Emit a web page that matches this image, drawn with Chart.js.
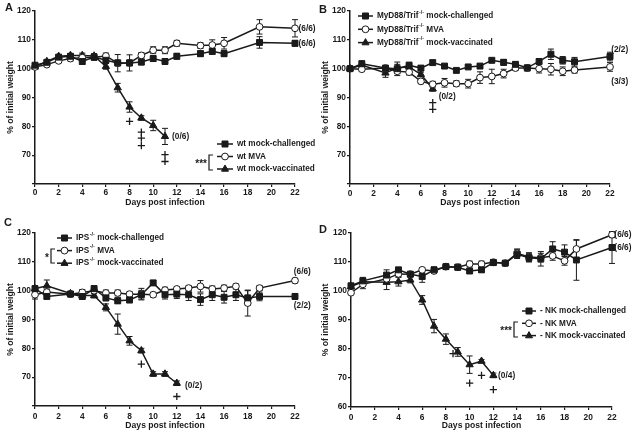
<!DOCTYPE html>
<html>
<head>
<meta charset="utf-8">
<script src="https://cdn.jsdelivr.net/npm/chart.js@4.4.1/dist/chart.umd.min.js"></script>
<style>
body{margin:0;background:#fff;}
#wrap{position:relative;width:635px;height:434px;overflow:hidden;background:#fff;}
canvas{position:absolute;}
</style>
</head>
<body>
<div id="wrap">
<canvas id="chartA" width="320" height="215" style="left:0;top:0"></canvas>
<canvas id="chartB" width="320" height="215" style="left:315px;top:0"></canvas>
<canvas id="chartC" width="320" height="219" style="left:0;top:215px"></canvas>
<canvas id="chartD" width="320" height="219" style="left:315px;top:215px"></canvas>
</div>
<script>
// ---- panel A : wt ----
var daysA = [0,1,2,3,4,5,6,7,8,9,10,11,12,14,15,16,19,22];
var wtChallenged = [101.2,102.2,104,104.3,102.5,104,102.9,102,102,102.3,103.5,102.5,104.3,105.2,106,105.2,109.1,108.8];
var wtChallengedErr = [0.6,0.6,0.6,0.8,1,1,1,1,1,1,1,1,1,1,1,1,2,1];
var wtMva = [100.6,101.4,102.7,103.5,103.8,104,104.4,101.9,102,104.6,106.4,106.4,108.8,108,108.2,108.8,114.5,114];
var wtMvaErr = [0.6,0.6,0.6,0.8,1.2,1,1,3,2.8,1,1.2,1.2,1,1,1.8,2,2.5,3];
var daysAv = [0,1,2,3,4,5,6,7,8,9,10,11];
var wtVacc = [100.6,102.5,104.3,104.6,104.6,104.4,100.8,93.4,86.7,82.9,80.3,76.5];
var wtVaccErr = [0.5,0.5,0.5,0.5,0.8,0.8,1,1.5,1.8,0.8,1.8,2.8];
var crossDaysA = [8,9,9,9,11,11];
var crossValsA = [81.7,78,75.9,73.3,70.2,67.8];
var noteDaysA = [22.3,22.3,11.6];
var noteValsA = [114,108.8,76.5];
var noteTextA = ['(6/6)','(6/6)','(0/6)'];
var legendA = [['wt mock-challenged','',''],['wt MVA','',''],['wt mock-vaccinated','','']];

// ---- panel B : MyD88/Trif-/- ----
var daysB = [0,1,3,4,5,6,7,8,9,10,11,12,13,14,15,16,17,18,19,22];
var myChallenged = [100,101.7,100.2,100,101.2,100.2,102.1,100.9,99.4,100.6,100.9,102.9,102.2,101.5,100.3,102.5,105,102.9,102.4,104.2];
var myChallengedErr = [0.5,1,0.8,1.5,1,0.8,0.8,0.6,0.6,0.6,0.6,0.6,1,0.8,0.8,0.8,1.8,1.3,1.5,1.5];
var myMva = [100,99.8,100.2,99.1,98.8,95.6,94.6,95.1,94.8,94.8,96.9,97.3,98.3,100.2,100.2,100,99.8,99.1,99.5,100.6];
var myMvaErr = [0.5,0.6,0.6,1.5,1,0.8,1,1.5,1,1.5,2,2.5,1.5,0.8,1,1.5,2,1.5,1,1.5];
var daysBv = [0,1,3,4,5,6,7];
var myVacc = [100,101.3,98.5,100.3,100.6,98,93];
var myVaccErr = [0.5,0.5,1.5,2,0.8,0.8,0.8];
var crossDaysB = [7,7];
var crossValsB = [88.2,85.9];
var noteDaysB = [22.1,22.1,7.5];
var noteValsB = [106.7,95.6,90.2];
var noteTextB = ['(2/2)','(3/3)','(0/2)'];
var legendB = [['MyD88/Trif','-/-',' mock-challenged'],['MyD88/Trif','-/-',' MVA'],['MyD88/Trif','-/-',' mock-vaccinated']];

// ---- panel C : IPS-/- ----
var daysC = [0,1,3,4,5,6,7,8,9,10,11,12,13,14,15,16,17,18,19,22];
var ipsChallenged = [100.7,98,98.8,98,100.7,97.5,96.5,96.8,98.6,102.7,98.6,98.8,98.6,96.9,98.6,97.7,98.6,97.5,98,98];
var ipsChallengedErr = [1,0.8,0.8,1,1,1,1,1,1.5,0.8,1.5,1.5,2,2,2,2,2,2.5,1.5,1];
var ipsMva = [98.6,99.5,98.8,99.4,100,99.2,99.2,98.8,98.8,98.6,100.2,100.6,100.9,101.5,100.6,100.9,101.5,95.7,100.9,103.5];
var ipsMvaErr = [1.5,1,0.8,1,1,1,1,0.8,2,0.8,1,0.8,0.8,2,1,1,0.8,4.5,0.8,0.8];
var daysCv = [0,1,3,4,5,6,7,8,9,10,11,12];
var ipsVacc = [100.7,101.7,99,98.3,98.3,94.2,88.4,82.6,79.2,71.1,71.1,67.9];
var ipsVaccErr = [0.8,2,0.8,0.8,0.8,1.2,3.5,1.5,0.8,0.8,0.8,0.8];
var crossDaysC = [9,12];
var crossValsC = [74.5,63.3];
var noteDaysC = [21.9,21.9,12.7];
var noteValsC = [106.7,94.9,67.1];
var noteTextC = ['(6/6)','(2/2)','(0/2)'];
var legendC = [['IPS','-/-',' mock-challenged'],['IPS','-/-',' MVA'],['IPS','-/-',' mock-vaccinated']];

// ---- panel D : NK depleted ----
var daysD = [0,1,3,4,5,6,7,8,9,10,11,12,13,14,15,16,17,18,19,22];
var nkChallenged = [101.8,103.5,105.5,107.3,105.8,105,107.3,108.4,108.2,106.9,107.3,109.8,109.6,112.7,111.5,111.1,114.5,113.4,110.7,115];
var nkChallengedErr = [0.5,0.8,1.8,0.8,0.8,2,1,0.8,0.8,0.8,0.8,0.8,0.8,1.5,1.5,2.5,2.5,2.5,7,5.5];
var nkMva = [99.4,102.3,104.2,105.9,105.8,107.3,106.9,108.4,108.2,109.3,109.3,109.9,109.6,113,111.7,111.5,112.1,110.4,114.5,119.4];
var nkMvaErr = [0.5,1.5,1.5,1,0.8,0.8,0.8,0.6,1,1,1,1,0.6,1.5,1.5,1.5,1.5,1.5,3,1];
var daysDv = [0,1,3,4,5,6,7,8,9,10,11,12];
var nkVacc = [101.5,103.2,103,103.2,103.8,96.9,87.9,83.4,79,74.6,75.8,70.9];
var nkVaccErr = [0.8,1.5,2.5,1.5,1,1.5,2.3,1.8,1.5,3,0.6,0.8];
var crossDaysD = [8.6,10,11,12];
var crossValsD = [78.4,68.2,70.9,66];
var noteDaysD = [22.2,22.2,12.4];
var noteValsD = [119.4,114.8,70.9];
var noteTextD = ['(6/6)','(6/6)','(0/4)'];
var legendD = [['- NK mock-challenged','',''],['- NK MVA','',''],['- NK mock-vaccinated','','']];

var ink = '#1a1a1a';
var fam = '"Liberation Sans", Arial, sans-serif';

var pairs = function(xs, ys) {
	var out = [];
	for (var i = 0; i < xs.length; i++) out.push({x: xs[i], y: ys[i]});
	return out;
}

var marker = function(ctx, style, fill, x, y) {
	ctx.save();
	ctx.fillStyle = fill;
	ctx.strokeStyle = ink;
	ctx.lineWidth = 1;
	ctx.beginPath();
	if (style == 'rect') {
		ctx.rect(x - 3, y - 3, 6, 6);
	} else if (style == 'circle') {
		ctx.arc(x, y, 3.4, 0, Math.PI * 2);
	} else {
		ctx.moveTo(x, y - 4);
		ctx.lineTo(x + 3.5, y + 2.2);
		ctx.lineTo(x - 3.5, y + 2.2);
		ctx.closePath();
	}
	ctx.fill();
	ctx.stroke();
	ctx.restore();
}

var series = function(label, xs, ys, err, style, fill, r) {
	return {
		label: label, data: pairs(xs, ys), err: err,
		borderColor: ink, borderWidth: 1.5, backgroundColor: fill,
		pointStyle: style, pointRadius: r, pointBorderWidth: 1,
		pointBorderColor: ink, pointBackgroundColor: fill,
		tension: 0, fill: false, clip: false
	};
}

var crosses = function(xs, ys) {
	return {
		label: 'dead', data: pairs(xs, ys), showLine: false,
		pointStyle: 'cross', pointRadius: 3.6, pointBorderWidth: 1.3,
		pointBorderColor: ink, borderColor: ink, clip: false
	};
}

// error bars, notes, legend, panel letter
var extras = {
	id: 'extras',
	beforeDatasetsDraw: function(chart) {
		var ctx = chart.ctx, ys = chart.scales.y;
		chart.data.datasets.forEach(function(ds, i) {
			if (!ds.err) return;
			var meta = chart.getDatasetMeta(i);
			ctx.save();
			ctx.strokeStyle = ink;
			ctx.lineWidth = 1;
			meta.data.forEach(function(pt, j) {
				var v = ds.data[j].y, e = ds.err[j];
				var t = ys.getPixelForValue(v + e), b = ys.getPixelForValue(v - e);
				ctx.beginPath();
				ctx.moveTo(pt.x, t); ctx.lineTo(pt.x, b);
				ctx.moveTo(pt.x - 3, t); ctx.lineTo(pt.x + 3, t);
				ctx.moveTo(pt.x - 3, b); ctx.lineTo(pt.x + 3, b);
				ctx.stroke();
			});
			ctx.restore();
		});
	},
	afterDraw: function(chart, args, o) {
		var ctx = chart.ctx, xs = chart.scales.x, ys = chart.scales.y;
		ctx.save();
		ctx.fillStyle = ink;
		ctx.textBaseline = 'middle';
		// panel letter
		ctx.font = 'bold 11px ' + fam;
		ctx.fillText(o.letter, o.letterPos[0], o.letterPos[1]);
		// group sizes
		ctx.font = 'bold 8.3px ' + fam;
		for (var i = 0; i < o.noteText.length; i++) {
			ctx.fillText(o.noteText[i], xs.getPixelForValue(o.noteDays[i]), ys.getPixelForValue(o.noteVals[i]));
		}
		// legend
		var lg = o.legend, styles = ['rect', 'circle', 'triangle'], fills = [ink, '#fff', ink];
		for (var k = 0; k < lg.items.length; k++) {
			var ly = lg.y + k * lg.row;
			ctx.strokeStyle = ink;
			ctx.lineWidth = 1.5;
			ctx.beginPath();
			ctx.moveTo(lg.x, ly); ctx.lineTo(lg.x + lg.len, ly);
			ctx.stroke();
			marker(ctx, styles[k], fills[k], lg.x + lg.len / 2, ly);
			var tx = lg.x + lg.len + 4, it = lg.items[k];
			ctx.font = 'bold 8.2px ' + fam;
			ctx.fillText(it[0], tx, ly);
			tx += ctx.measureText(it[0]).width;
			if (it[1]) {
				ctx.font = 'bold 5.5px ' + fam;
				ctx.fillText(it[1], tx + 0.5, ly - 4);
				tx += ctx.measureText(it[1]).width + 0.5;
				ctx.font = 'bold 8.2px ' + fam;
				ctx.fillText(it[2], tx, ly);
			}
		}
		// significance bracket
		var br = o.bracket;
		if (br.text) {
			ctx.strokeStyle = ink;
			ctx.lineWidth = 1.2;
			ctx.beginPath();
			ctx.moveTo(br.x + 4, br.y1); ctx.lineTo(br.x, br.y1);
			ctx.lineTo(br.x, br.y2); ctx.lineTo(br.x + 4, br.y2);
			ctx.stroke();
			ctx.font = 'bold 10px ' + fam;
			ctx.textAlign = 'right';
			ctx.fillText(br.text, br.x - 2, (br.y1 + br.y2) / 2 + 2);
		}
		ctx.restore();
	}
};

var makeChart = function(id, sets, p) {
	return new Chart(document.getElementById(id), {
		type: 'line',
		data: { datasets: sets },
		options: {
			responsive: false,
			animation: false,
			events: [],
			layout: { padding: { top: p.top, right: p.right, left: 0, bottom: 0 } },
			plugins: { legend: { display: false }, tooltip: { enabled: false }, extras: p.extras },
			scales: {
				x: {
					type: 'linear', min: 0, max: 22,
					border: { color: ink, width: 1.5 },
					grid: { drawOnChartArea: false, drawTicks: true, tickLength: 3, color: ink, lineWidth: 1.2 },
					ticks: { stepSize: 2, padding: p.xpad, color: ink, font: { family: fam, size: 8.4, weight: 'bold' }, maxRotation: 0 },
					title: { display: true, text: 'Days post infection', color: ink, padding: { top: 0, bottom: p.xtitle }, font: { family: fam, size: 8.6, weight: 'bold' } },
					afterFit: function(s) { s.height = p.xh; }
				},
				y: {
					min: 60, max: 120,
					border: { color: ink, width: 1.5 },
					grid: { drawOnChartArea: false, drawTicks: true, tickLength: 3, color: ink, lineWidth: 1.2 },
					ticks: {
						stepSize: 10, padding: 1, color: ink, font: { family: fam, size: 8.4, weight: 'bold' },
						callback: function(v) { return (v == 60 && p.hide60) ? '' : v; }
					},
					title: { display: true, text: '% of initial weight', color: ink, padding: { top: 5, bottom: 0 }, font: { family: fam, size: 8.6, weight: 'bold' } },
					afterFit: function(s) { s.width = p.yw; }
				}
			}
		},
		plugins: [extras]
	});
}

makeChart('chartA', [
	series('wt mock-challenged', daysA, wtChallenged, wtChallengedErr, 'rect', ink, 4.2),
	series('wt MVA', daysA, wtMva, wtMvaErr, 'circle', '#fff', 3.4),
	series('wt mock-vaccinated', daysAv, wtVacc, wtVaccErr, 'triangle', ink, 4.2),
	crosses(crossDaysA, crossValsA)
], { top: 11, right: 25, yw: 35, xh: 31, xpad: 1, xtitle: 7, hide60: true, extras: {
	letter: 'A', letterPos: [5, 8],
	noteDays: noteDaysA, noteVals: noteValsA, noteText: noteTextA,
	legend: { x: 217, y: 144, row: 12.5, len: 16, items: legendA },
	bracket: { x: 209, y1: 155, y2: 170, text: '***' }
}});

makeChart('chartB', [
	series('mock-challenged', daysB, myChallenged, myChallengedErr, 'rect', ink, 4.2),
	series('MVA', daysB, myMva, myMvaErr, 'circle', '#fff', 3.4),
	series('mock-vaccinated', daysBv, myVacc, myVaccErr, 'triangle', ink, 4.2),
	crosses(crossDaysB, crossValsB)
], { top: 11, right: 25, yw: 35, xh: 31, xpad: 2, xtitle: 7, hide60: true, extras: {
	letter: 'B', letterPos: [4, 10],
	noteDays: noteDaysB, noteVals: noteValsB, noteText: noteTextB,
	legend: { x: 43, y: 16, row: 13.3, len: 15, items: legendB },
	bracket: { x: 0, y1: 0, y2: 0, text: '' }
}});

makeChart('chartC', [
	series('mock-challenged', daysC, ipsChallenged, ipsChallengedErr, 'rect', ink, 4.2),
	series('MVA', daysC, ipsMva, ipsMvaErr, 'circle', '#fff', 3.4),
	series('mock-vaccinated', daysCv, ipsVacc, ipsVaccErr, 'triangle', ink, 4.2),
	crosses(crossDaysC, crossValsC)
], { top: 18, right: 25, yw: 35, xh: 28, xpad: 3, xtitle: 3, hide60: true, extras: {
	letter: 'C', letterPos: [4, 8],
	noteDays: noteDaysC, noteVals: noteValsC, noteText: noteTextC,
	legend: { x: 57, y: 23, row: 12.6, len: 15, items: legendC },
	bracket: { x: 51, y1: 34, y2: 48, text: '*' }
}});

makeChart('chartD', [
	series('mock-challenged', daysD, nkChallenged, nkChallengedErr, 'rect', ink, 4.2),
	series('MVA', daysD, nkMva, nkMvaErr, 'circle', '#fff', 3.4),
	series('mock-vaccinated', daysDv, nkVacc, nkVaccErr, 'triangle', ink, 4.2),
	crosses(crossDaysD, crossValsD)
], { top: 18, right: 23, yw: 36, xh: 27, xpad: 3, xtitle: 3, hide60: false, extras: {
	letter: 'D', letterPos: [4, 15],
	noteDays: noteDaysD, noteVals: noteValsD, noteText: noteTextD,
	legend: { x: 207, y: 96, row: 12.3, len: 14, items: legendD },
	bracket: { x: 199, y1: 107, y2: 122, text: '***' }
}});
</script>
</body>
</html>
